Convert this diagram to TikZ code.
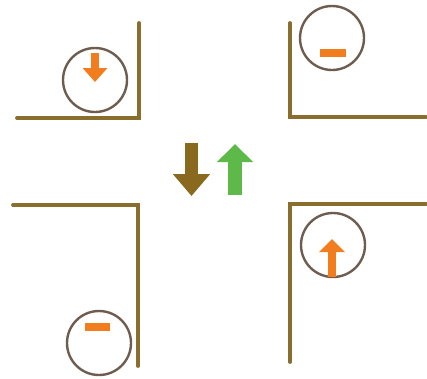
\documentclass[tikz,border=0pt]{standalone}
\usepackage{tikz}
\usetikzlibrary{arrows.meta}
\definecolor{cwall}{HTML}{8A6E2E}
\definecolor{cring}{HTML}{6E5D4E}
\definecolor{corange}{HTML}{F27D1F}
\definecolor{cgreen}{HTML}{5EBA48}
\definecolor{cbrown}{HTML}{89691D}

\begin{document}
\begin{tikzpicture}[x=1pt, y=-1pt,
    wall/.style={cwall, line width=3.8pt, line cap=round},
    ring/.style={circle, draw=cring, line width=2.4pt, minimum size=64pt, inner sep=0pt},
    bar/.style={fill=corange},
    fat/.style={line width=#1}]
  \useasboundingbox (0,0) rectangle (427,378);
  % corner walls
  \draw[wall] (17,118) -- (139,118) -- (139,23);
  \draw[wall] (290,23) -- (290,117) -- (426,117);
  \draw[wall] (13,205) -- (138,205) -- (138,366);
  \draw[wall] (426,204) -- (290,204) -- (290,362);
  % rings
  \node[ring] (tl) at (95,80) {};
  \node[ring] (tr) at (332,38) {};
  \node[ring] (bl) at (99,343) {};
  \node[ring] (br) at (333,245) {};
  % marks inside the rings
  \draw[corange, fat=8pt, -{Triangle[width=24pt, length=14pt]}] (95,53) -- (95,82);
  \draw[corange, fat=8pt, -{Triangle[width=25pt, length=13pt]}] (332,277) -- (332,239);
  \fill[bar] (320,49) rectangle (346,57);
  \fill[bar] (85,323) rectangle (110,331);
  % centre arrows
  \draw[cbrown, fat=13pt, -{Triangle[width=36pt, length=22pt]}] (191.5,143) -- (191.5,196);
  \draw[cgreen, fat=14pt, -{Triangle[width=35pt, length=18pt]}] (235,195) -- (235,144);
\end{tikzpicture}
\end{document}
